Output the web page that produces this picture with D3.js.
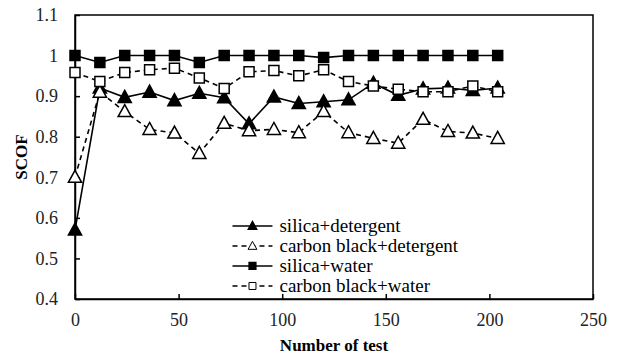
<!DOCTYPE html>
<html>
<head>
<meta charset="utf-8">
<script src="https://cdn.jsdelivr.net/npm/d3@7"></script>
<style>
  body { margin: 0; background: #fff; }
</style>
</head>
<body>
<div id="chart"></div>
<script>
// number of test
const tests = [0, 12, 24, 36, 48, 60, 72, 84, 96, 108, 120, 132, 144, 156, 168, 180, 192, 204];

const silicaDetergent = [0.570, 0.920, 0.897, 0.910, 0.889, 0.907, 0.896, 0.832, 0.898, 0.882, 0.886, 0.891, 0.932, 0.902, 0.918, 0.920, 0.914, 0.920];
const carbonDetergent = [0.700, 0.910, 0.862, 0.818, 0.809, 0.759, 0.833, 0.815, 0.818, 0.810, 0.862, 0.810, 0.796, 0.784, 0.843, 0.813, 0.809, 0.796];
const silicaWater = [1.000, 0.983, 1.000, 1.000, 1.000, 0.983, 1.000, 1.000, 1.000, 1.000, 0.995, 1.000, 1.000, 1.000, 1.000, 1.000, 1.000, 1.000];
const carbonWater = [0.958, 0.936, 0.958, 0.965, 0.969, 0.945, 0.919, 0.960, 0.963, 0.950, 0.965, 0.936, 0.925, 0.917, 0.911, 0.911, 0.925, 0.911];

const seriesNames = ['silica+detergent', 'carbon black+detergent', 'silica+water', 'carbon black+water'];
const xTicks = [0, 50, 100, 150, 200, 250];
const yTicks = [0.4, 0.5, 0.6, 0.7, 0.8, 0.9, 1, 1.1];

const series = [
  { name: seriesNames[0], values: silicaDetergent, shape: 'triangle', fill: '#000', dash: null },
  { name: seriesNames[1], values: carbonDetergent, shape: 'triangle', fill: '#fff', dash: '5,4' },
  { name: seriesNames[2], values: silicaWater, shape: 'square', fill: '#000', dash: null },
  { name: seriesNames[3], values: carbonWater, shape: 'square', fill: '#fff', dash: '5,4' }
];

const FONT = 'Liberation Serif';

const W = 618, H = 360;
const margin = { top: 15, right: 25, bottom: 61, left: 75 };
const width = W - margin.left - margin.right;
const height = H - margin.top - margin.bottom;

const svg = d3.select('#chart').append('svg')
  .attr('width', W)
  .attr('height', H)
  .attr('font-family', FONT);

const chart = svg.append('g')
  .attr('transform', `translate(${margin.left},${margin.top})`);

const x = d3.scaleLinear().domain([0, 250]).range([0, width]);
const y = d3.scaleLinear().domain([0.4, 1.1]).range([height, 0]);

// frame
chart.append('rect')
  .attr('width', width)
  .attr('height', height)
  .attr('fill', 'none')
  .attr('stroke', '#000')
  .attr('stroke-width', 1.5);

// axes, ticks pointing inward
const xAxisG = chart.append('g')
  .attr('transform', `translate(0,${height})`)
  .call(d3.axisBottom(x).tickValues(xTicks).tickSizeInner(-5).tickSizeOuter(0).tickPadding(14));
const yAxisG = chart.append('g')
  .call(d3.axisLeft(y).tickValues(yTicks).tickFormat(d => d === 1 ? '1' : d3.format('.1f')(d))
    .tickSizeInner(-5).tickSizeOuter(0).tickPadding(17));

[xAxisG, yAxisG].forEach(g => {
  g.attr('font-family', FONT).attr('font-size', 18);
  g.select('.domain').attr('stroke-width', 1.5);
  g.selectAll('.tick line').attr('stroke-width', 1.5);
  g.selectAll('.tick text')
    .attr('font-family', FONT)
    .attr('font-size', 18)
    .attr('fill', '#222');
});

// axis titles
chart.append('text')
  .attr('x', width / 2)
  .attr('y', height + 52)
  .attr('text-anchor', 'middle')
  .attr('font-family', FONT)
  .attr('font-size', 17)
  .attr('font-weight', 'bold')
  .text('Number of test');

chart.append('text')
  .attr('transform', 'rotate(-90)')
  .attr('x', -(y(0.75)))
  .attr('y', -48)
  .attr('text-anchor', 'middle')
  .attr('font-family', FONT)
  .attr('font-size', 17)
  .attr('font-weight', 'bold')
  .text('SCOF');

function markerPath(shape, s) {
  if (shape === 'triangle') {
    return `M0,${-s * 0.58}L${s * 0.55},${s * 0.42}L${-s * 0.55},${s * 0.42}Z`;
  }
  return `M${-s / 2},${-s / 2}H${s / 2}V${s / 2}H${-s / 2}Z`;
}

const line = d3.line()
  .x(d => x(d[0]))
  .y(d => y(d[1]));

series.forEach(s => {
  const pts = tests.map((t, i) => [t, s.values[i]]);
  const g = chart.append('g');
  g.append('path')
    .datum(pts)
    .attr('d', line)
    .attr('fill', 'none')
    .attr('stroke', '#000')
    .attr('stroke-width', 1.6)
    .attr('stroke-dasharray', s.dash);
  g.selectAll('.mk')
    .data(pts)
    .join('path')
    .attr('class', 'mk')
    .attr('transform', d => `translate(${x(d[0])},${y(d[1])})`)
    .attr('d', markerPath(s.shape, s.shape === 'triangle' ? 12 : 10))
    .attr('fill', s.fill)
    .attr('stroke', '#000')
    .attr('stroke-width', 1.5);
});

// legend
const legend = chart.append('g')
  .attr('transform', `translate(${x(76)},${y(0.58)})`);

series.forEach((s, i) => {
  const row = legend.append('g').attr('transform', `translate(0,${i * 20})`);
  row.append('line')
    .attr('x1', 0).attr('x2', 40)
    .attr('stroke', '#000')
    .attr('stroke-width', 1.5)
    .attr('stroke-dasharray', s.dash);
  row.append('path')
    .attr('transform', 'translate(20,0)')
    .attr('d', markerPath(s.shape, s.shape === 'triangle' ? 8 : 7))
    .attr('fill', s.fill)
    .attr('stroke', '#000')
    .attr('stroke-width', s.fill === '#fff' ? 1 : 1.2);
  row.append('text')
    .attr('x', 47)
    .attr('y', 6)
    .attr('font-family', FONT)
    .attr('font-size', 19)
    .text(s.name);
});
</script>
</body>
</html>
